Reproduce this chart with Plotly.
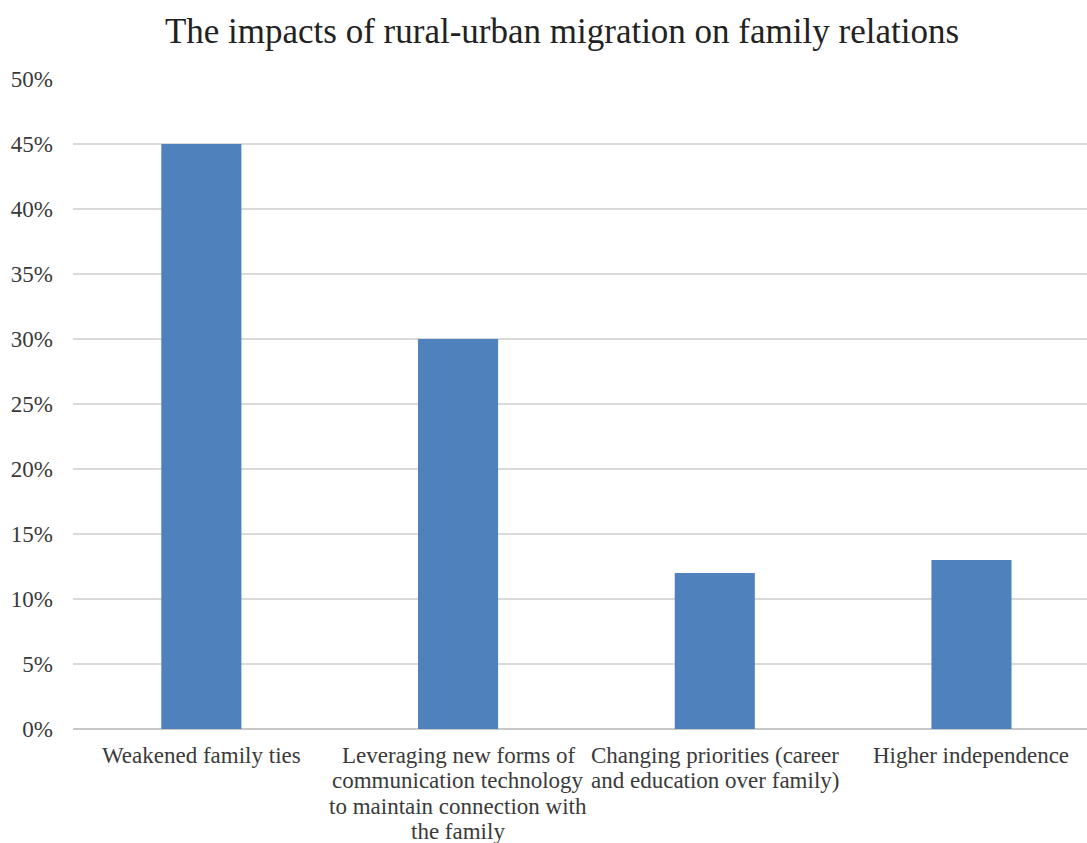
import plotly.graph_objects as go

# Category labels, one list of lines per bar
category_lines = [
    ["Weakened family ties"],
    ["Leveraging new forms of", "communication technology",
     "to maintain connection with", "the family"],
    ["Changing priorities (career", "and education over family)"],
    ["Higher independence"],
]
values = [45, 30, 12, 13]
y_ticks = [0, 5, 10, 15, 20, 25, 30, 35, 40, 45, 50]
y_tick_labels = [f"{v}%" for v in y_ticks]

SERIF = "Liberation Serif, Times New Roman, serif"
TEXT_COLOR = "#3a3a3a"
LINE_STEP = 25.5      # pixel spacing between label lines
FIRST_LINE = 26       # pixel offset of the first label line below the axis

positions = list(range(len(values)))

fig = go.Figure(
    go.Bar(
        x=positions,
        y=values,
        marker=dict(color="#4F81BD", line=dict(width=0)),
        hoverinfo="skip",
    )
)

annotations = []
for pos, lines in zip(positions, category_lines):
    for k, line in enumerate(lines):
        annotations.append(dict(
            x=pos, xref="x", y=0, yref="paper",
            text=line, showarrow=False,
            xanchor="center", yanchor="middle",
            yshift=-(FIRST_LINE + LINE_STEP * k),
            font=dict(family=SERIF, size=23, color=TEXT_COLOR),
        ))

fig.update_layout(
    width=1087,
    height=843,
    paper_bgcolor="white",
    plot_bgcolor="white",
    margin=dict(l=73, r=0, t=79, b=114),
    bargap=0.688,
    showlegend=False,
    annotations=annotations,
    title=dict(
        text="The impacts of rural-urban migration on family relations",
        font=dict(family=SERIF, size=35, color="#222222"),
        x=0.517,
        xanchor="center",
        y=0.964,
        yanchor="middle",
    ),
)

fig.update_xaxes(
    range=[-0.5, 3.45],
    tickmode="array",
    tickvals=positions,
    showticklabels=False,
    showgrid=False,
    zeroline=False,
    showline=False,
    ticks="",
)

fig.update_yaxes(
    range=[0, 50],
    tickmode="array",
    tickvals=y_ticks,
    ticktext=y_tick_labels,
    tickfont=dict(family=SERIF, size=23, color=TEXT_COLOR),
    showgrid=True,
    gridcolor="#d9d9d9",
    gridwidth=1.5,
    zeroline=True,
    zerolinecolor="#c8c8c8",
    zerolinewidth=1.5,
    ticks="",
    ticklabelstandoff=19,
)

fig.write_html("out.html")
